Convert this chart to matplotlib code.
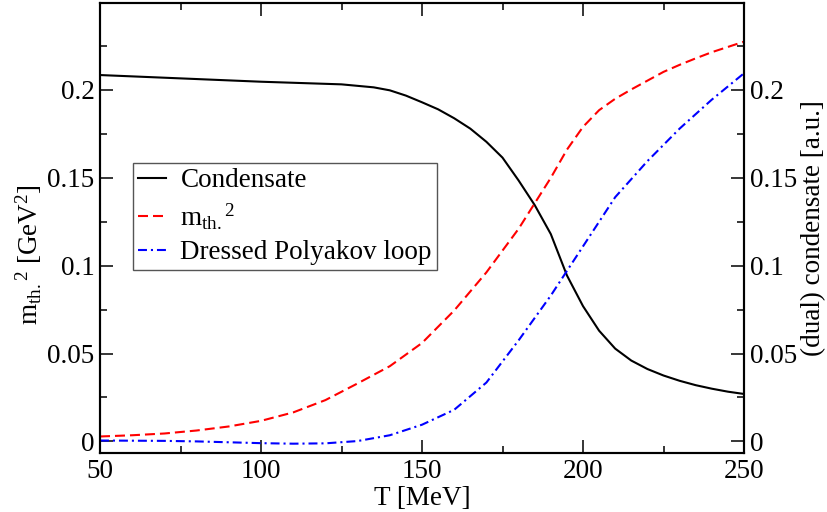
import matplotlib
matplotlib.use("Agg")
import matplotlib.pyplot as plt
from matplotlib.ticker import MultipleLocator, FormatStrFormatter

plt.rcParams['font.family'] = ['Liberation Serif', 'DejaVu Serif']
plt.rcParams['mathtext.fontset'] = 'custom'
plt.rcParams['mathtext.rm'] = 'Liberation Serif'
plt.rcParams['mathtext.it'] = 'Liberation Serif:italic'
plt.rcParams['font.size'] = 19.5

# Condensate (black)
T_cond = [50, 75, 100, 125, 135, 140, 145, 150, 155, 160, 165, 170, 175, 180,
          185, 190, 195, 200, 205, 210, 215, 220, 225, 230, 235, 240, 245, 250]
cond = [0.2085, 0.2066, 0.2047, 0.2032, 0.2015, 0.1998, 0.1968, 0.1930, 0.1890,
        0.1839, 0.1780, 0.1705, 0.1615, 0.1485, 0.1345, 0.1180, 0.0945, 0.0770,
        0.0630, 0.0528, 0.0460, 0.0412, 0.0375, 0.0345, 0.0320, 0.0300, 0.0283,
        0.0270]

# thermal mass squared (red dashed)
T_m = [50, 60, 70, 80, 90, 100, 110, 120, 130, 140, 150, 160, 170, 180, 185,
       190, 195, 200, 205, 210, 215, 220, 225, 230, 235, 240, 245, 250]
m2 = [0.0028, 0.0035, 0.0045, 0.0062, 0.0085, 0.0117, 0.0165, 0.0235, 0.0330,
      0.0428, 0.0560, 0.0745, 0.0962, 0.1210, 0.1355, 0.1500, 0.1660, 0.1790,
      0.1885, 0.1950, 0.2003, 0.2053, 0.2103, 0.2143, 0.2180, 0.2215, 0.2245,
      0.2275]

# dressed Polyakov loop (blue dash-dot)
T_pol = [50, 60, 70, 80, 90, 100, 110, 120, 130, 140, 150, 160, 170, 180, 190,
         200, 210, 220, 230, 240, 250]
pol = [0.0005, 0.0004, 0.0003, 0.0, -0.0005, -0.0010, -0.0013, -0.0011, 0.0002,
       0.0035, 0.0095, 0.0180, 0.0335, 0.0575, 0.0830, 0.1110, 0.1390, 0.1595,
       0.1780, 0.1945, 0.2095]

mth2 = r'$\mathrm{m}_{\mathrm{th.}}{}^{2}$'

fig = plt.figure(figsize=(8.27, 5.12), dpi=100)
ax = fig.add_axes([100/827, 1 - 453/512, 644/827, 450/512])

ax.plot(T_cond, cond, color='black', lw=1.5, label='Condensate')
ax.plot(T_m, m2, color='red', lw=1.5, linestyle=(0, (4.8, 2.4)), label=mth2)
ax.plot(T_pol, pol, color='blue', lw=1.5, linestyle=(0, (4.3, 1.9, 1.0, 1.9)),
        label='Dressed Polyakov loop')

ylim = (-0.0066, 0.2495)
ax.set_xlim(50, 250)
ax.set_ylim(*ylim)
ax.xaxis.set_major_locator(MultipleLocator(50))
ax.xaxis.set_minor_locator(MultipleLocator(25))
ax.yaxis.set_major_locator(MultipleLocator(0.05))
ax.yaxis.set_minor_locator(MultipleLocator(0.025))
ax.yaxis.set_major_formatter(FormatStrFormatter('%g'))

ax2 = ax.twinx()
ax2.set_ylim(*ylim)
ax2.yaxis.set_major_locator(MultipleLocator(0.05))
ax2.yaxis.set_minor_locator(MultipleLocator(0.025))
ax2.yaxis.set_major_formatter(FormatStrFormatter('%g'))

for a in (ax, ax2):
    for s in a.spines.values():
        s.set_linewidth(1.5)
    a.tick_params(which='both', direction='in', width=1.1, pad=4)
    a.tick_params(which='major', length=9.5)
    a.tick_params(which='minor', length=5)
ax.tick_params(which='both', top=True, right=False)

ax.set_xlabel('T [MeV]', labelpad=2)
ax.set_ylabel(mth2[:-1] + r'\ [\mathrm{GeV}{}^{2}]$')
ax.yaxis.set_label_coords(-0.087, 0.44)
ax2.set_ylabel('(dual) condensate [a.u.]')
ax2.yaxis.set_label_coords(1.088, 0.5)

leg = ax.legend(loc='upper left', bbox_to_anchor=(133/827, 1 - 163/512),
                bbox_transform=fig.transFigure, borderaxespad=0,
                fancybox=False, framealpha=1, edgecolor='#555555',
                borderpad=0.2, labelspacing=0.3, handlelength=1.0,
                handletextpad=0.55)
leg.get_frame().set_linewidth(1.0)

fig.savefig('out.png', dpi=100)
